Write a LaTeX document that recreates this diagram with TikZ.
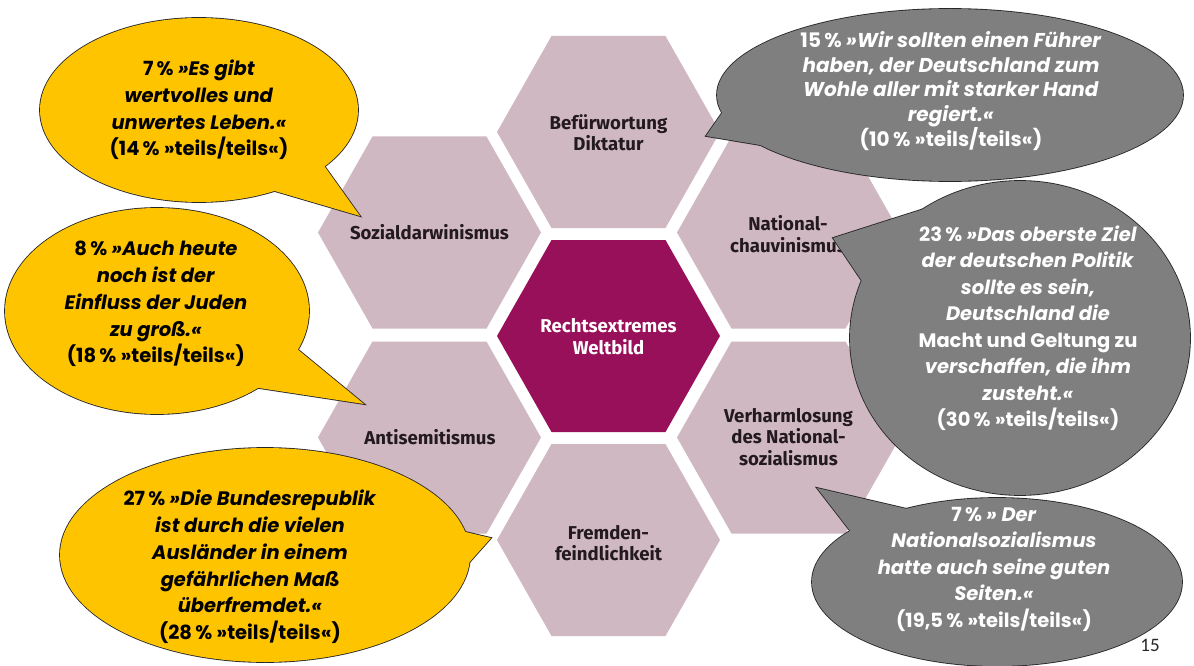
\documentclass[tikz,border=0pt]{standalone}
\usepackage{fontspec}
\setmainfont{Fira Sans}
\newfontfamily\bubfont{Poppins}
\newfontfamily\hexfont{Fira Sans}
\newfontfamily\numfont{Carlito}
\usetikzlibrary{calc}
\definecolor{hexlight}{HTML}{D0B8C2}
\definecolor{hexdark}{HTML}{99105A}
\definecolor{bubyellow}{HTML}{FFC400}
\definecolor{bubgray}{HTML}{7F7F7F}
\definecolor{edgecol}{HTML}{262626}
\definecolor{hextext}{HTML}{231A1F}
\newcommand{\hexcell}[3]{%
  \fill[#3] (#1-111.5,#2) -- (#1-57,#2-96) -- (#1+57,#2-96) -- (#1+111.5,#2)
    -- (#1+57,#2+96) -- (#1-57,#2+96) -- cycle;}
% bubble: fill, cx, cy, rx, ry, tip, base1, base2
\newcommand{\bubble}[8]{%
  \coordinate (tipc) at (#6);
  \coordinate (ba) at ($(#6)!1.25!(#7)$);
  \coordinate (bb) at ($(#6)!1.25!(#8)$);
  \draw[bubedge] (#2,#3) ellipse [x radius=#4pt, y radius=#5pt];
  \draw[bubedge] (ba) -- (tipc) -- (bb);
  \fill[#1] (#2,#3) ellipse [x radius=#4pt, y radius=#5pt];
  \fill[#1] (ba) -- (tipc) -- (bb) -- cycle;}
\tikzset{
  bubedge/.style={draw=edgecol, line width=1.7pt, line join=miter},
  hexlabel/.style={font=\hexfont\bfseries\fontsize{18.6}{21.5}\selectfont, text=hextext, align=center},
  centerlabel/.style={hexlabel, text=white},
  ytext/.style={font=\bubfont\bfseries\fontsize{19.5}{26.8}\selectfont, text=black, align=center},
  gtext/.style={font=\bubfont\bfseries\fontsize{19.5}{26.5}\selectfont, text=white, align=center},
}
\begin{document}
\begin{tikzpicture}[x=1pt, y=-1pt]
\useasboundingbox (0,0) rectangle (1194,666);
\fill[white] (0,0) rectangle (1194,666);
% honeycomb
\hexcell{608.5}{132}{hexlight}
\hexcell{429.5}{232.5}{hexlight}
\hexcell{788.5}{232.5}{hexlight}
\hexcell{608.5}{336}{hexdark}
\hexcell{429.5}{437.5}{hexlight}
\hexcell{788.5}{437.5}{hexlight}
\hexcell{608.5}{540}{hexlight}
\node[hexlabel] (diktatur) at (608.5,132.5) {Befürwortung\\Diktatur};
\node[hexlabel] (sozial) at (429.5,232) {Sozialdarwinismus};
\node[hexlabel] (chauv) at (788,234) {National-\\chauvinismus};
\node[centerlabel] (welt) at (608.5,336.5) {Rechtsextremes\\Weltbild};
\node[hexlabel] (antisem) at (430,437) {Antisemitismus};
\node[hexlabel] (verharm) at (788.5,437) {Verharmlosung\\des National-\\sozialismus};
\node[hexlabel] (fremd) at (608.5,543) {Fremden-\\feindlichkeit};
% yellow bubbles
\bubble{bubyellow}{199}{110}{159}{92}{360,216}{325,167}{278,192}
\node[ytext] (b1) at (199,110) {7\,\% \textit{»Es gibt}\\\textit{wertvolles und}\\\textit{unwertes Leben.«}\\(14\,\% »teils/teils«)};
\bubble{bubyellow}{157}{311}{152}{103}{364,404}{302,353}{272,390}
\node[ytext] (b2) at (156,304) {8\,\% \textit{»Auch heute}\\\textit{noch ist der}\\\textit{Einfluss der Juden}\\\textit{zu groß.«}\\(18\,\% »teils/teils«)};
\bubble{bubyellow}{265}{555}{205}{107}{491,538}{453,529}{467,565}
\node[ytext] (b3) at (250,567) {27\,\% \textit{»Die Bundesrepublik}\\\textit{ist durch die vielen}\\\textit{Ausländer in einem}\\\textit{gefährlichen Maß}\\\textit{überfremdet.«}\\(28\,\% »teils/teils«)};
% gray bubbles
\bubble{bubgray}{950}{95}{233}{86}{706,136}{722,113}{760,145}
\node[gtext, font=\bubfont\bfseries\fontsize{20}{24.6}\selectfont] (b4) at (951,91) {15\,\% \textit{»Wir sollten einen Führer}\\\textit{haben, der Deutschland zum}\\\textit{Wohle aller mit starker Hand}\\\textit{regiert.«}\\(10\,\% »teils/teils«)};
\bubble{bubgray}{1020}{338}{170}{157}{833,238}{866,287}{905,215}
\node[gtext] (b5) at (1028,328) {23\,\% \textit{»Das oberste Ziel}\\\textit{der deutschen Politik}\\\textit{sollte es sein,}\\\textit{Deutschland die}\\Macht und Geltung zu\\\textit{verschaffen, die ihm}\\\textit{zusteht.«}\\(30\,\% »teils/teils«)};
\bubble{bubgray}{997}{582}{185}{84}{817,488}{848,528}{890,505}
\node[gtext] (b6) at (994,569) {7\,\% \textit{» Der}\\\textit{Nationalsozialismus}\\\textit{hatte auch seine guten}\\\textit{Seiten.«}\\(19,5\,\% »teils/teils«)};
\node[font=\numfont\fontsize{19}{21}\selectfont, text=black!85] (page) at (1150,645) {15};
\end{tikzpicture}
\end{document}
